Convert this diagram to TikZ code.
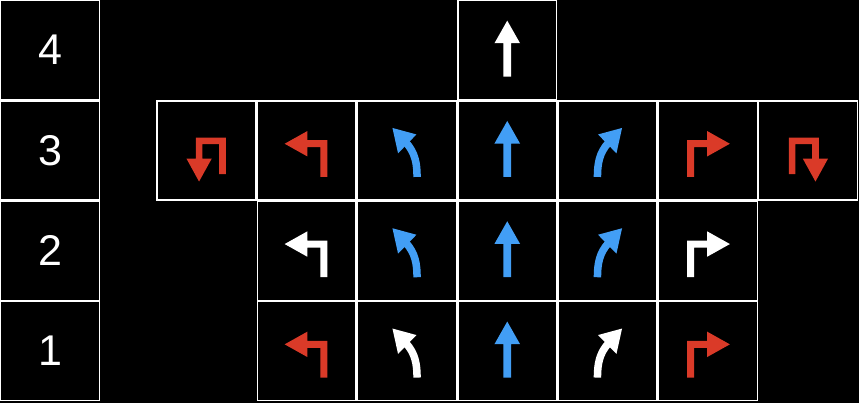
\documentclass[tikz,border=0pt]{standalone}
\usepackage{fontspec}
\setmainfont{Liberation Sans}
\definecolor{arrowred}{RGB}{218,58,40}
\definecolor{arrowblue}{RGB}{66,158,245}
\begin{document}
\begin{tikzpicture}[x=1pt,y=-1pt,
  cell/.style={draw=white,line width=1.4pt,minimum size=98.9pt,inner sep=0pt,fill=black},
  numcell/.style={cell,text=white,font=\fontsize{43}{43}\selectfont},
  straightup/.pic={\fill[#1] (0,-29.5) -- (12.8,-6.9) -- (3.8,-6.9) -- (3.8,26.5) -- (-3.8,26.5) -- (-3.8,-6.9) -- (-12.8,-6.9) -- cycle;},
  turnleft/.pic={\fill[#1] (-22,-6.7) -- (0.7,-19.4) -- (0.7,-10.2) -- (20.7,-10.2) -- (20.7,26.5) -- (13.7,26.5) -- (13.7,-3.2) -- (0.7,-3.2) -- (0.7,6.0) -- cycle;},
  uturnleft/.pic={\fill[#1] (-10.6,-12.9) -- (19.4,-12.9) -- (19.4,23.8) -- (12.7,23.8) -- (12.7,-6.2) -- (-3.9,-6.2) -- (-3.9,8.1) -- (5.4,8.1) -- (-7.3,31.1) -- (-19.9,8.1) -- (-10.6,8.1) -- cycle;},
  bearleft/.pic={\fill[#1] (-14.5,-22.5) -- (9.5,-16) -- (-8.9,2.9) -- cycle;
    \draw[#1,line width=7.5pt] (-1.1,-8.0) .. controls (8.4,2.3) and (10.1,13.5) .. (10.1,26.5);}
]
\fill[black] (0,0) rectangle (859,403);
\useasboundingbox (0,0) rectangle (859,403);
% number column
\node[numcell] (n4) at (50.15,50.15) {4};
\node[numcell] (n3) at (50.15,150.45) {3};
\node[numcell] (n2) at (50.15,250.75) {2};
\node[numcell] (n1) at (50.15,351.05) {1};
% row 4
\node[cell] (r4c3) at (507.25,50.15) {};
% row 3
\node[cell] (r3c0) at (206.35,150.45) {};
\node[cell] (r3c1) at (306.65,150.45) {};
\node[cell] (r3c2) at (406.95,150.45) {};
\node[cell] (r3c3) at (507.25,150.45) {};
\node[cell] (r3c4) at (607.55,150.45) {};
\node[cell] (r3c5) at (707.85,150.45) {};
\node[cell] (r3c6) at (808.15,150.45) {};
% row 2
\node[cell] (r2c1) at (306.65,250.75) {};
\node[cell] (r2c2) at (406.95,250.75) {};
\node[cell] (r2c3) at (507.25,250.75) {};
\node[cell] (r2c4) at (607.55,250.75) {};
\node[cell] (r2c5) at (707.85,250.75) {};
% row 1
\node[cell] (r1c1) at (306.65,351.05) {};
\node[cell] (r1c2) at (406.95,351.05) {};
\node[cell] (r1c3) at (507.25,351.05) {};
\node[cell] (r1c4) at (607.55,351.05) {};
\node[cell] (r1c5) at (707.85,351.05) {};
% icons
\pic at (r4c3) {straightup=white};
\pic at (r3c0) {uturnleft=arrowred};
\pic at (r3c1) {turnleft=arrowred};
\pic at (r3c2) {bearleft=arrowblue};
\pic at (r3c3) {straightup=arrowblue};
\pic[xscale=-1] at (r3c4) {bearleft=arrowblue};
\pic[xscale=-1] at (r3c5) {turnleft=arrowred};
\pic[xscale=-1] at (r3c6) {uturnleft=arrowred};
\pic at (r2c1) {turnleft=white};
\pic at (r2c2) {bearleft=arrowblue};
\pic at (r2c3) {straightup=arrowblue};
\pic[xscale=-1] at (r2c4) {bearleft=arrowblue};
\pic[xscale=-1] at (r2c5) {turnleft=white};
\pic at (r1c1) {turnleft=arrowred};
\pic at (r1c2) {bearleft=white};
\pic at (r1c3) {straightup=arrowblue};
\pic[xscale=-1] at (r1c4) {bearleft=white};
\pic[xscale=-1] at (r1c5) {turnleft=arrowred};
\end{tikzpicture}
\end{document}
